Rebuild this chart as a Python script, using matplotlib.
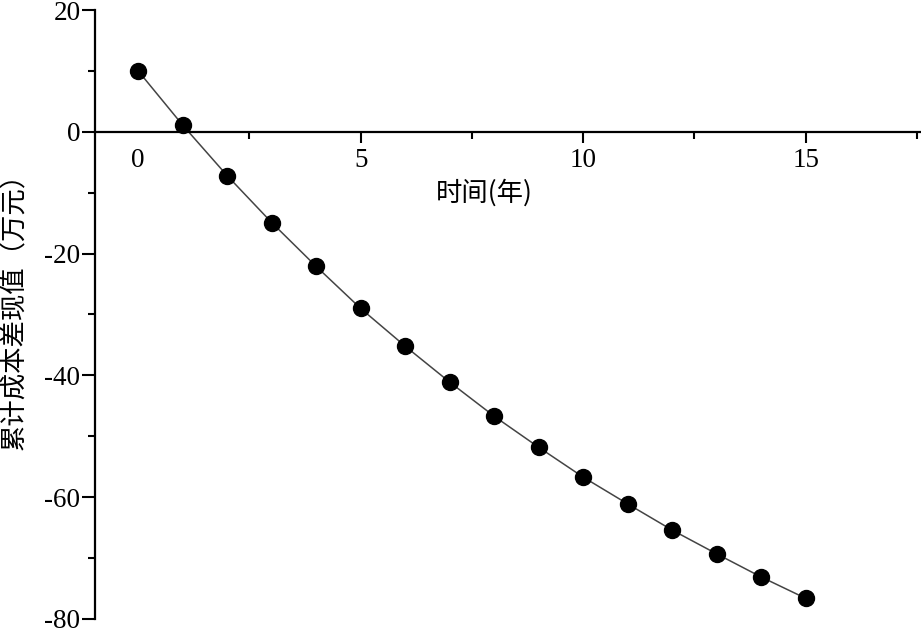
import numpy as np
import matplotlib
matplotlib.use("Agg")
import matplotlib.pyplot as plt
from matplotlib.ticker import MultipleLocator, FixedLocator

plt.rcParams['font.family'] = ['Liberation Serif', 'Noto Sans CJK SC']
plt.rcParams['axes.unicode_minus'] = False

# data
years = [0, 1, 2, 3, 4, 5, 6, 7, 8, 9, 10, 11, 12, 13, 14, 15]
cost_diff = [10.0, 1.1, -7.2, -14.9, -22.1, -29.0, -35.2, -41.1,
             -46.7, -51.8, -56.7, -61.1, -65.4, -69.3, -73.1, -76.6]
xlabel = "时间(年)"
ylabel = "累计成本差现值（万元）"

fig = plt.figure(figsize=(9.21, 6.3), dpi=100)
ax = fig.add_axes([95 / 921, 11 / 630, 825 / 921, 609 / 630])

ax.plot(years, cost_diff, '-', color='#444444', linewidth=1.1, zorder=2)
ax.plot(years, cost_diff, 'o', color='black', markersize=11.5, zorder=3)

ax.set_xlim(-0.97, 17.57)
ax.set_ylim(-80, 20)

for s in ['top', 'right']:
    ax.spines[s].set_visible(False)
ax.spines['bottom'].set_position(('data', 0))
ax.spines['left'].set_linewidth(1.6)
ax.spines['bottom'].set_linewidth(1.6)

ax.xaxis.set_major_locator(FixedLocator([0, 5, 10, 15]))
ax.xaxis.set_minor_locator(FixedLocator([2.5, 7.5, 12.5, 17.5]))
ax.yaxis.set_major_locator(MultipleLocator(20))
ax.yaxis.set_minor_locator(MultipleLocator(10))

ax.tick_params(axis='x', which='major', direction='out', length=8, width=1.5,
               labelsize=19.5, pad=4)
ax.tick_params(axis='x', which='minor', direction='out', length=5, width=1.5)
ax.tick_params(axis='y', which='major', direction='out', length=9.5, width=1.5,
               labelsize=19.5, pad=1)
ax.tick_params(axis='y', which='minor', direction='out', length=5, width=1.5)
# no tick mark at x=0 in the original
ax.xaxis.get_major_ticks()[0].tick1line.set_visible(False)

ax.text(0.4715, 0.70, xlabel, transform=ax.transAxes, ha='center', va='center',
        fontsize=19, family=['Noto Sans CJK SC', 'DejaVu Sans'])
ax.text(-0.097, 0.515, ylabel, transform=ax.transAxes, ha='center', va='center',
        rotation=90, fontsize=19, family=['Noto Sans CJK SC', 'DejaVu Sans'])

fig.savefig("out.png", dpi=100)
